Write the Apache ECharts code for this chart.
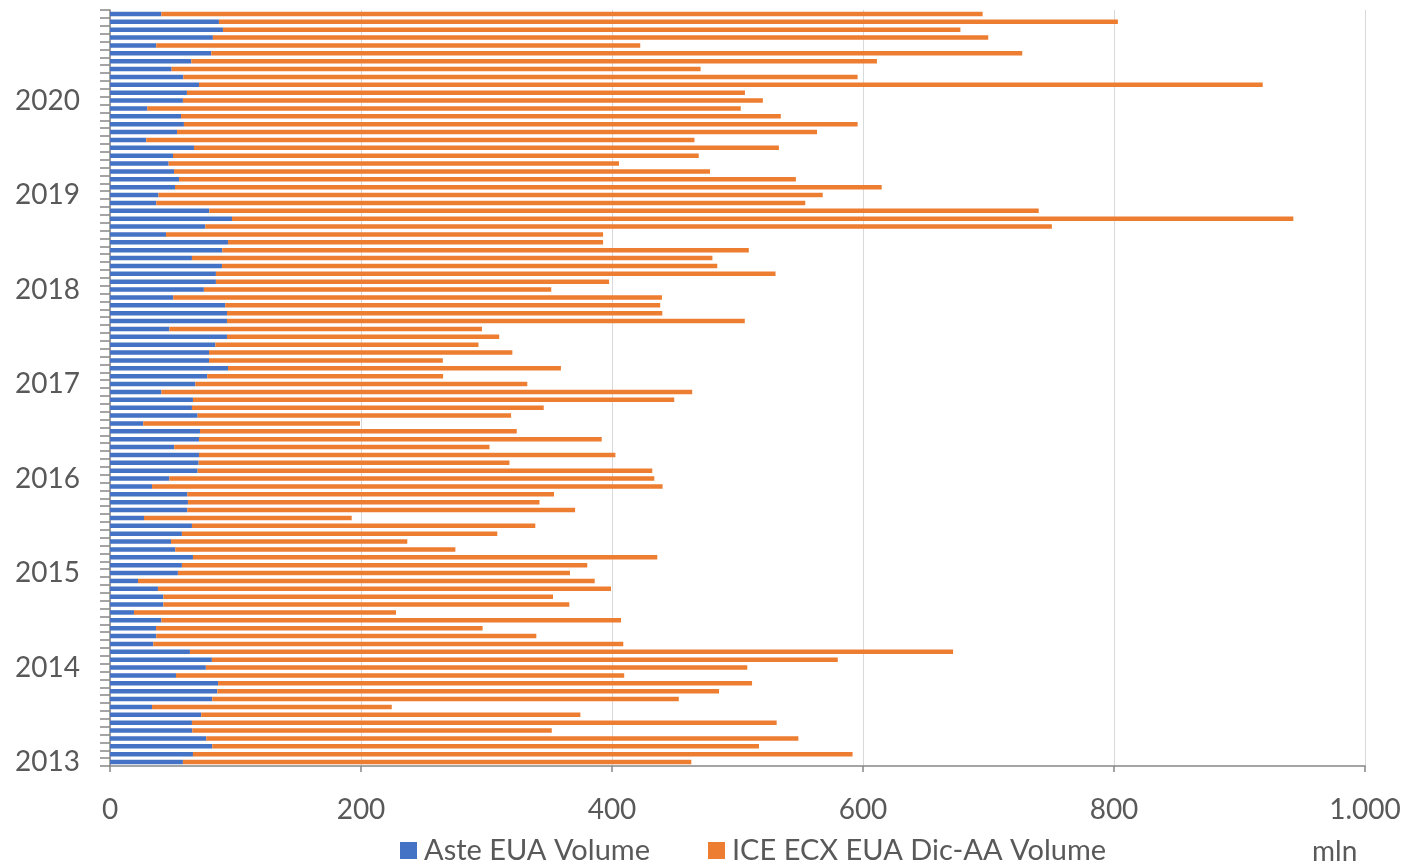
<!DOCTYPE html>
<html>
<head>
<meta charset="utf-8">
<script src="https://cdn.jsdelivr.net/npm/echarts@6/dist/echarts.min.js"></script>
<style>
  html, body { margin: 0; padding: 0; background: #ffffff; }
  #chart { width: 1408px; height: 865px; }
</style>
</head>
<body>
<div id="chart"></div>
<script>
// Monthly categories, January 2013 to December 2020
const years = ['2013', '2014', '2015', '2016', '2017', '2018', '2019', '2020'];
const months = ['01', '02', '03', '04', '05', '06', '07', '08', '09', '10', '11', '12'];
const categories = [];
years.forEach(function (y) { months.forEach(function (m) { categories.push(y + '-' + m); }); });

// Auction EUA volume (mln), month by month
const asteVolume = [
  58.1, 66.1, 81.5, 76.7, 65.6, 65.3, 72.7, 33.5, 81.5, 85.5, 86.1, 52.6,   // 2013
  76.4, 81.2, 63.7, 34.5, 36.9, 36.7, 41.0, 19.1, 42.5, 42.5, 38.2, 22.3,   // 2014
  54.1, 57.3, 66.1, 52.0, 48.6, 57.3, 65.3, 27.1, 61.6, 62.1, 61.6, 33.5,   // 2015
  47.3, 69.8, 70.6, 70.9, 51.2, 70.9, 71.7, 26.5, 69.8, 65.3, 66.1, 41.0,   // 2016
  68.0, 77.5, 94.0, 78.9, 78.9, 83.9, 93.2, 47.3, 93.2, 93.2, 91.8, 50.4,   // 2017
  74.8, 84.4, 84.4, 89.2, 65.3, 89.5, 94.0, 44.6, 75.9, 97.2, 79.1, 36.9,   // 2018
  38.6, 51.8, 55.0, 51.0, 46.7, 50.2, 66.9, 28.9, 53.4, 58.9, 56.6, 29.7,   // 2019
  58.1, 61.3, 70.9, 58.4, 49.1, 64.8, 80.7, 36.9, 82.0, 90.0, 86.8, 40.9    // 2020
];

// ICE ECX EUA Dec futures volume (mln), month by month
const iceVolume = [
  405.1, 525.6, 435.6, 471.8, 286.4, 465.9, 302.1, 191.0, 371.7, 399.8, 425.5, 357.1,   // 2013
  431.4, 498.7, 608.1, 374.5, 302.8, 260.2, 366.2, 208.8, 323.5, 310.5, 361.0, 363.9,   // 2014
  312.4, 323.0, 370.0, 223.2, 188.3, 251.3, 273.6, 165.5, 309.0, 280.1, 292.2, 406.8,   // 2015
  386.4, 362.3, 247.7, 331.8, 251.2, 320.9, 252.4, 172.7, 249.8, 280.3, 383.5, 422.9,   // 2016
  264.5, 187.9, 265.3, 186.3, 241.7, 209.7, 216.9, 249.1, 412.6, 346.9, 346.6, 389.4,   // 2017
  276.8, 313.3, 445.9, 394.7, 414.7, 419.5, 298.9, 348.3, 674.6, 845.7, 660.9, 517.1,   // 2018
  529.3, 563.1, 491.5, 427.1, 358.9, 418.9, 466.1, 436.8, 510.0, 536.8, 477.9, 472.9,   // 2019
  462.1, 444.6, 847.6, 537.3, 421.5, 546.3, 646.2, 385.6, 617.8, 587.6, 716.3, 654.4    // 2020
];

const seriesNames = ['Aste EUA Volume', 'ICE ECX EUA Dic-AA Volume'];
const xMin = 0, xMax = 1000, xStep = 200;
const unitLabel = 'mln';

const FONT = 'Lato, "Open Sans", sans-serif';
const TEXT = '#595959';
const AXIS = '#868686';

// Italian thousands separator: 1000 -> 1.000
function fmtIt(v) {
  return String(Math.round(v)).replace(/\B(?=(\d{3})+(?!\d))/g, '.');
}

const chart = echarts.init(document.getElementById('chart'), null, { renderer: 'canvas' });

chart.setOption({
  animation: false,
  backgroundColor: '#ffffff',
  textStyle: { fontFamily: FONT },
  grid: { left: 110, right: 43, top: 10, bottom: 99, containLabel: false },
  legend: {
    data: seriesNames,
    left: 395,
    top: 831,
    icon: 'rect',
    itemWidth: 17,
    itemHeight: 17,
    itemGap: 58,
    textStyle: { fontFamily: FONT, fontSize: 29, color: TEXT, padding: [0, 0, 0, 2] }
  },
  xAxis: {
    type: 'value',
    min: xMin,
    max: xMax,
    interval: xStep,
    axisLine: { show: true, lineStyle: { color: AXIS, width: 1.5 } },
    axisTick: { show: true, length: 6, lineStyle: { color: AXIS, width: 1.5 } },
    splitLine: { show: true, lineStyle: { color: '#d9d9d9', width: 1 } },
    axisLabel: { fontFamily: FONT, fontSize: 28, color: TEXT, margin: 30, formatter: fmtIt }
  },
  yAxis: {
    type: 'category',
    data: categories,
    boundaryGap: true,
    axisLine: { show: true, lineStyle: { color: AXIS, width: 1.5 } },
    axisTick: { show: true, interval: 0, length: 10, alignWithLabel: false, lineStyle: { color: AXIS, width: 1.5 } },
    splitLine: { show: false },
    axisLabel: {
      interval: 11,
      fontFamily: FONT,
      fontSize: 28,
      color: TEXT,
      margin: 30,
      formatter: function (v) { return v.slice(0, 4); }
    }
  },
  graphic: [{
    type: 'text',
    left: 1312,
    top: 838,
    style: { text: unitLabel, font: '28px ' + FONT, fill: TEXT }
  }],
  series: [
    {
      name: seriesNames[0],
      type: 'bar',
      stack: 'vol',
      data: asteVolume,
      barWidth: 4.5,
      itemStyle: { color: '#4472c4' }
    },
    {
      name: seriesNames[1],
      type: 'bar',
      stack: 'vol',
      data: iceVolume,
      barWidth: 4.5,
      itemStyle: { color: '#ed7d31' }
    }
  ]
});
</script>
</body>
</html>
